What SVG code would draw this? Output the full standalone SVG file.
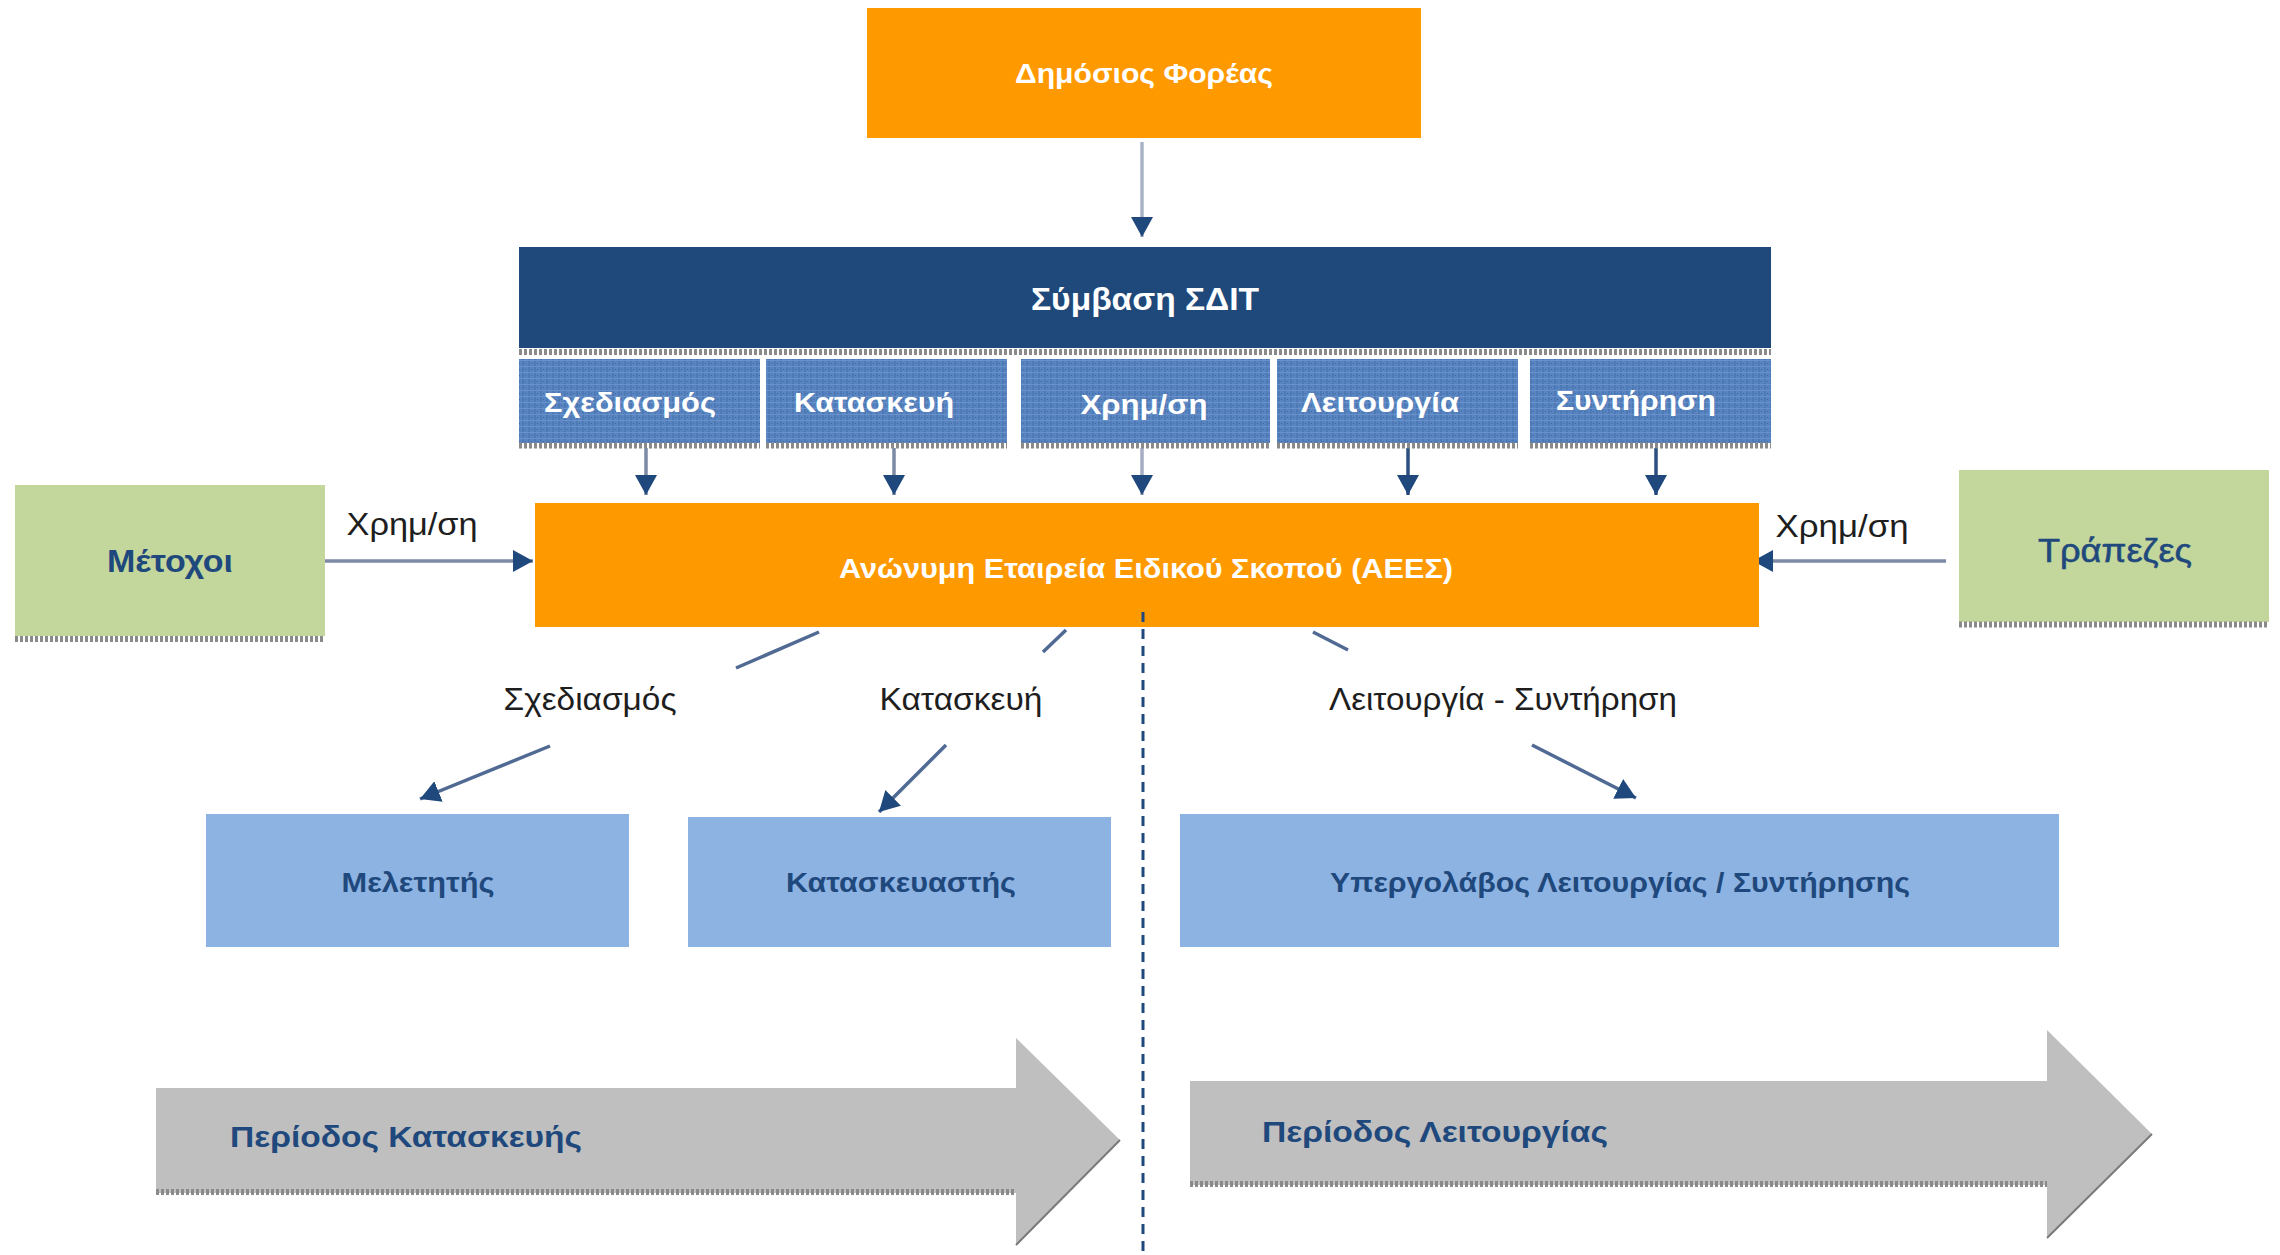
<svg xmlns="http://www.w3.org/2000/svg" width="2280" height="1255" viewBox="0 0 2280 1255">
<defs>
<style>
.t{font-family:"Liberation Sans",Arial,sans-serif;text-anchor:middle}
.b{font-weight:bold}
.w{fill:#ffffff}
.nv{fill:#1f497d}
.lbl{fill:#1e1e1e;font-size:32px}
.orange{fill:#ff9900}
.green{fill:#c3d69b}
.lblue{fill:#8db3e2}
.conn{fill:none;stroke-width:3.5}
.dots{stroke:#8a8a8a;stroke-width:6;stroke-dasharray:3 2;fill:none}
</style>
<marker id="ah" viewBox="0 0 20 22" refX="20" refY="11" markerWidth="20" markerHeight="22" markerUnits="userSpaceOnUse" orient="auto">
<path d="M0,0 L20,11 L0,22 Z" fill="#1f497d"/>
</marker>
<pattern id="grid" width="6" height="6" patternUnits="userSpaceOnUse">
<rect width="6" height="6" fill="#5884c1"/>
<rect x="0" y="0" width="2" height="6" fill="#4d79b4"/>
<rect x="0" y="0" width="6" height="1" fill="#6990c8"/>
<rect x="3" y="3" width="1" height="1" fill="#3f689f"/>
</pattern>
</defs>
<rect width="2280" height="1255" fill="#ffffff"/>

<g id="connectors">
<line class="conn" x1="1142" y1="142" x2="1142" y2="237" stroke="#aab3c6" stroke-width="4" marker-end="url(#ah)"/>
<line class="conn" x1="646" y1="448" x2="646" y2="495" stroke="#7d8aa6" marker-end="url(#ah)"/>
<line class="conn" x1="894" y1="448" x2="894" y2="495" stroke="#7d8aa6" marker-end="url(#ah)"/>
<line class="conn" x1="1142" y1="448" x2="1142" y2="495" stroke="#a4adc2" marker-end="url(#ah)"/>
<line class="conn" x1="1408" y1="448" x2="1408" y2="495" stroke="#2a4f80" marker-end="url(#ah)"/>
<line class="conn" x1="1656" y1="448" x2="1656" y2="495" stroke="#2a4f80" marker-end="url(#ah)"/>
<line class="conn" x1="324" y1="561" x2="533" y2="561" stroke="#7d8aa6" marker-end="url(#ah)"/>
<line class="conn" x1="1946" y1="561" x2="1753" y2="561" stroke="#7d8aa6" marker-end="url(#ah)"/>
<line class="conn" x1="819" y1="632" x2="736" y2="668" stroke="#506a94" stroke-width="3"/>
<line class="conn" x1="550" y1="746" x2="420" y2="799" stroke="#506a94" stroke-width="3" marker-end="url(#ah)"/>
<line class="conn" x1="1066" y1="630" x2="1043" y2="652" stroke="#506a94" stroke-width="3"/>
<line class="conn" x1="946" y1="745" x2="879" y2="812" stroke="#506a94" stroke-width="3" marker-end="url(#ah)"/>
<line class="conn" x1="1313" y1="632" x2="1348" y2="650" stroke="#506a94" stroke-width="3"/>
<line class="conn" x1="1532" y1="745" x2="1636" y2="798" stroke="#506a94" stroke-width="3" marker-end="url(#ah)"/>
<text class="t lbl" x="412" y="535" textLength="131" lengthAdjust="spacingAndGlyphs">Χρημ/ση</text>
<text class="t lbl" x="1842" y="537" textLength="133" lengthAdjust="spacingAndGlyphs">Χρημ/ση</text>
<text class="t lbl" x="590" y="710" textLength="173" lengthAdjust="spacingAndGlyphs">Σχεδιασμός</text>
<text class="t lbl" x="961" y="710" textLength="163" lengthAdjust="spacingAndGlyphs">Κατασκευή</text>
<text class="t lbl" x="1503" y="710" textLength="348" lengthAdjust="spacingAndGlyphs">Λειτουργία - Συντήρηση</text>
</g>

<g id="n-dimosios">
<rect class="orange" x="867" y="8" width="554" height="130"/>
<text class="t b w" x="1144" y="83" font-size="28" textLength="258" lengthAdjust="spacingAndGlyphs">Δημόσιος Φορέας</text>
</g>

<g id="n-symvasi">
<rect x="519" y="247" width="1252" height="101" fill="#1f497b"/>
<line class="dots" x1="519" y1="352" x2="1771" y2="352" stroke-width="8"/>
<text class="t b w" x="1145" y="310" font-size="31" textLength="228" lengthAdjust="spacingAndGlyphs">Σύμβαση ΣΔΙΤ</text>
</g>

<g id="n-sxediasmos">
<rect x="519" y="359" width="241" height="84" fill="url(#grid)"/>
<line class="dots" x1="519" y1="445.5" x2="760" y2="445.5" stroke-width="5"/>
<text class="t b w" x="630" y="412" font-size="28" textLength="172" lengthAdjust="spacingAndGlyphs">Σχεδιασμός</text>
</g>
<g id="n-kataskevi">
<rect x="766" y="359" width="241" height="84" fill="url(#grid)"/>
<line class="dots" x1="766" y1="445.5" x2="1007" y2="445.5" stroke-width="5"/>
<text class="t b w" x="874" y="412" font-size="28" textLength="160" lengthAdjust="spacingAndGlyphs">Κατασκευή</text>
</g>
<g id="n-xrimatodotisi">
<rect x="1021" y="359" width="249" height="84" fill="url(#grid)"/>
<line class="dots" x1="1021" y1="445.5" x2="1270" y2="445.5" stroke-width="5"/>
<text class="t b w" x="1144" y="414" font-size="28" textLength="127" lengthAdjust="spacingAndGlyphs">Χρημ/ση</text>
</g>
<g id="n-leitourgia">
<rect x="1277" y="359" width="241" height="84" fill="url(#grid)"/>
<line class="dots" x1="1277" y1="445.5" x2="1518" y2="445.5" stroke-width="5"/>
<text class="t b w" x="1380" y="412" font-size="28" textLength="158" lengthAdjust="spacingAndGlyphs">Λειτουργία</text>
</g>
<g id="n-syntirisi">
<rect x="1530" y="359" width="241" height="84" fill="url(#grid)"/>
<line class="dots" x1="1530" y1="445.5" x2="1771" y2="445.5" stroke-width="5"/>
<text class="t b w" x="1636" y="410" font-size="28" textLength="160" lengthAdjust="spacingAndGlyphs">Συντήρηση</text>
</g>

<g id="n-aees">
<rect class="orange" x="535" y="503" width="1224" height="124"/>
<text class="t b w" x="1146" y="578" font-size="28" textLength="614" lengthAdjust="spacingAndGlyphs">Ανώνυμη Εταιρεία Ειδικού Σκοπού (ΑΕΕΣ)</text>
</g>

<g id="n-metoxoi">
<rect class="green" x="15" y="485" width="310" height="151"/>
<line class="dots" x1="15" y1="639" x2="325" y2="639" stroke-width="6"/>
<text class="t b nv" x="170" y="572" font-size="32" textLength="126" lengthAdjust="spacingAndGlyphs">Μέτοχοι</text>
</g>

<g id="n-trapezes">
<rect class="green" x="1959" y="470" width="310" height="152"/>
<line class="dots" x1="1959" y1="624.5" x2="2269" y2="624.5" stroke-width="5"/>
<text class="t nv" x="2115" y="562" font-size="34" textLength="154" lengthAdjust="spacingAndGlyphs" stroke="#1f497d" stroke-width="0.6">Τράπεζες</text>
</g>

<g id="n-meletitis">
<rect class="lblue" x="206" y="814" width="423" height="133"/>
<text class="t b nv" x="418" y="892" font-size="28" textLength="153" lengthAdjust="spacingAndGlyphs">Μελετητής</text>
</g>
<g id="n-kataskevastis">
<rect class="lblue" x="688" y="817" width="423" height="130"/>
<text class="t b nv" x="901" y="892" font-size="28" textLength="230" lengthAdjust="spacingAndGlyphs">Κατασκευαστής</text>
</g>
<g id="n-ypergolavos">
<rect class="lblue" x="1180" y="814" width="879" height="133"/>
<text class="t b nv" x="1620" y="892" font-size="28" textLength="580" lengthAdjust="spacingAndGlyphs">Υπεργολάβος Λειτουργίας / Συντήρησης</text>
</g>

<line x1="1143" y1="612" x2="1143" y2="1253" stroke="#1f497d" stroke-width="3" stroke-dasharray="10 7"/>

<g id="n-periodos-kataskevis">
<polygon points="156,1088 1016,1088 1016,1038 1120,1140 1016,1245 1016,1193 156,1193" fill="#bfbfbf"/>
<polyline points="156,1192 1016,1192" class="dots" stroke="#6f6f6f" stroke-width="4" stroke-dasharray="2 1.5"/>
<polyline points="1120,1140 1016,1245" fill="none" stroke="#7a7a7a" stroke-width="2"/>
<text class="t b nv" x="406" y="1147" font-size="30" textLength="352" lengthAdjust="spacingAndGlyphs">Περίοδος Κατασκευής</text>
</g>

<g id="n-periodos-leitourgias">
<polygon points="1190,1081 2047,1081 2047,1030 2152,1134 2047,1238 2047,1185 1190,1185" fill="#bfbfbf"/>
<polyline points="1190,1184 2047,1184" class="dots" stroke="#6f6f6f" stroke-width="4" stroke-dasharray="2 1.5"/>
<polyline points="2152,1134 2047,1238" fill="none" stroke="#7a7a7a" stroke-width="2"/>
<text class="t b nv" x="1435" y="1142" font-size="30" textLength="346" lengthAdjust="spacingAndGlyphs">Περίοδος Λειτουργίας</text>
</g>
</svg>
